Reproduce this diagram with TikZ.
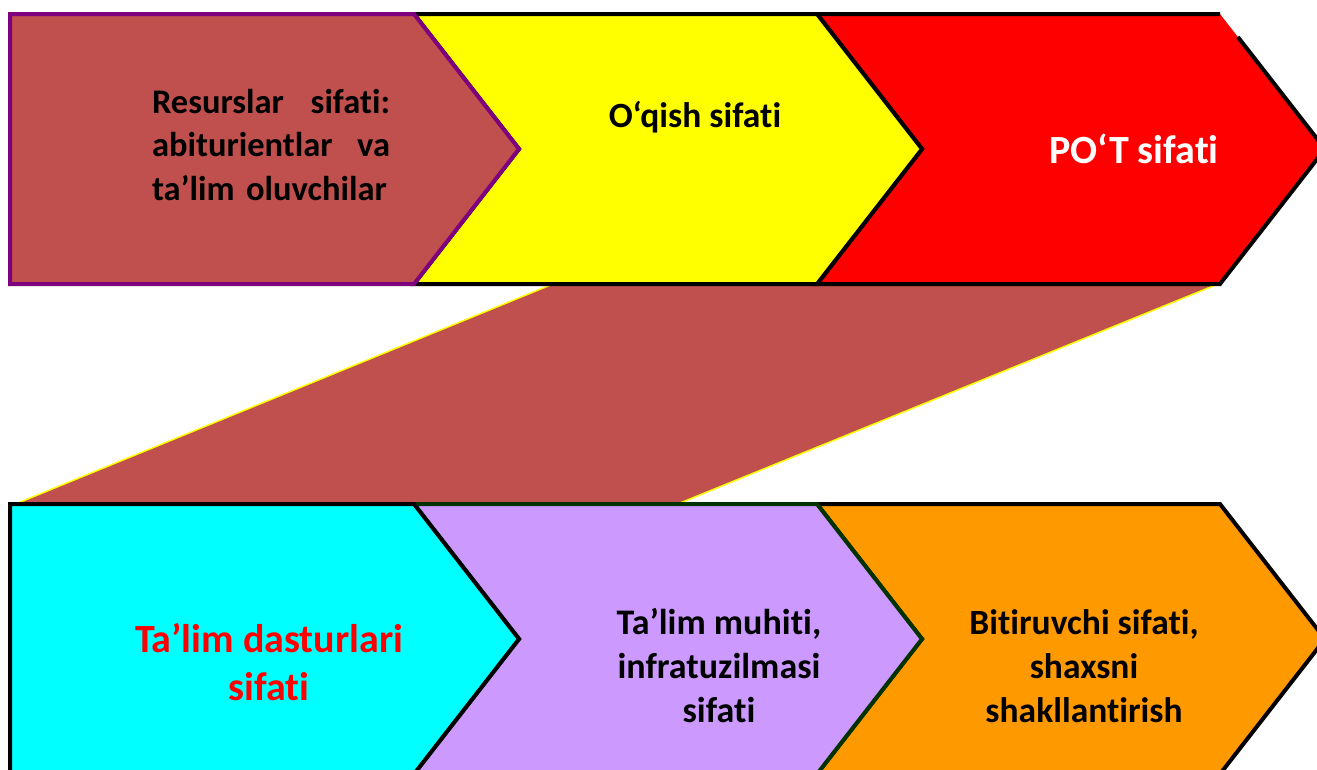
\documentclass[tikz,border=0pt]{standalone}
\usepackage{fontspec}
\setmainfont{Carlito}[Ligatures=NoCommon]
\usetikzlibrary{calc}
\definecolor{brownfill}{HTML}{C0504D}
\definecolor{purpborder}{HTML}{7F007F}
\definecolor{yelfill}{HTML}{FFFF00}
\definecolor{redfill}{HTML}{FF0000}
\definecolor{cyanfill}{HTML}{00FFFF}
\definecolor{lavfill}{HTML}{CC99FF}
\definecolor{orangefill}{HTML}{FF9900}
\definecolor{dkgreen}{HTML}{003300}
\begin{document}
\begin{tikzpicture}[x=1pt,y=-1pt,
  chev/.style={line width=4pt,line join=miter},
  lbl/.style={font=\bfseries,inner sep=0pt,align=center}]
\useasboundingbox (0,0) rectangle (1317,769);
\clip (0,0) rectangle (1317,769);
% connecting band
\fill[brownfill] (553,284) -- (1218,284) -- (680,503) -- (18,503) -- cycle;
\draw[yelfill,line width=1.5pt] (553,284) -- (18,503);
\draw[yelfill,line width=1.5pt] (1218,284) -- (680,503);
% top row (right to left)
\fill[redfill] (817,14) -- (1220,14) -- (1325,149) -- (1220,284) -- (817,284) -- (922,149) -- cycle;
\draw[chev] ($(1220,14)!0.17!(1325,149)$) -- (1325,149) -- (1220,284) -- (817,284) -- (922,149) -- (817,14) -- (1220,14);
\draw[chev,fill=yelfill] (414,14) -- (817,14) -- (922,149) -- (817,284) -- (414,284) -- (519,149) -- cycle;
\draw[chev,draw=purpborder,fill=brownfill] (10,14) -- (414,14) -- (519,149) -- (414,284) -- (10,284) -- cycle;
% bottom row (right to left)
\draw[chev,fill=orangefill] (817,504) -- (1220,504) -- (1325,639) -- (1220,774) -- (817,774) -- (922,639) -- cycle;
\draw[chev,draw=dkgreen,fill=lavfill] (414,504) -- (817,504) -- (922,639) -- (817,774) -- (414,774) -- (519,639) -- cycle;
\draw[chev,fill=cyanfill] (10,504) -- (414,504) -- (519,639) -- (414,774) -- (10,774) -- cycle;
% labels
\node[lbl,align=left,text width=238pt,font=\bfseries\fontsize{34.5}{43.5}\selectfont] (res) at (271,145)
  {\makebox[238pt][l]{Resurslar\hfill sifati:}\\\makebox[238pt][l]{abiturientlar\hfill va}\\ta’lim oluvchilar};
\node[lbl,anchor=base,font=\bfseries\fontsize{35.5}{43}\selectfont] (oqish) at (695,127) {O‘qish sifati};
\node[lbl,anchor=base,font=\bfseries\fontsize{40}{48}\selectfont,text=white] (pot) at (1134,163) {PO‘T sifati};
\node[lbl,font=\bfseries\fontsize{40}{48}\selectfont,text=redfill] (prog) at (269,662) {Ta’lim dasturlari\\sifati};
\node[lbl,font=\bfseries\fontsize{36}{44}\selectfont] (muhit) at (719,666) {Ta’lim muhiti,\\infratuzilmasi\\sifati};
\node[lbl,font=\bfseries\fontsize{35.5}{44}\selectfont] (bitir) at (1084,666) {Bitiruvchi sifati,\\shaxsni\\shakllantirish};
\end{tikzpicture}
\end{document}
